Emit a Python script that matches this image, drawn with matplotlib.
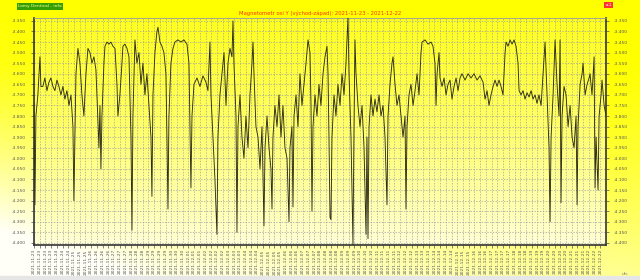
import numpy as np
import matplotlib
matplotlib.use("Agg")
import matplotlib.pyplot as plt
from datetime import datetime, timedelta

# hours since 2021-11-23 00:00 and magnetometer values
hours = [0.0, 1.3, 2.5, 5.0, 7.6, 8.8, 11.3, 13.8, 16.4, 18.9, 21.4, 23.9, 26.4, 29.0, 31.5, 34.0,
         36.5, 39.0, 41.5, 44.1, 46.6, 49.1, 50.3, 51.6, 52.9, 55.4, 57.9, 60.4, 62.9, 65.5, 68.0,
         70.5, 73.0, 75.5, 78.0, 79.3, 81.8, 83.1, 84.3, 85.6, 88.1, 89.4, 91.9, 94.4, 96.9, 99.4,
         102.0, 104.5, 105.7, 108.2, 110.8, 112.0, 114.5, 117.1, 119.6, 122.1, 123.4, 124.6, 127.1,
         129.6, 132.2, 134.7, 137.2, 139.7, 142.2, 144.8, 147.3, 148.5, 149.8, 152.3, 154.8, 156.1,
         158.6, 161.1, 163.6, 166.1, 167.4, 168.7, 169.9, 172.4, 175.0, 177.5, 181.3, 185.0, 188.8,
         192.6, 195.1, 196.4, 197.6, 198.9, 201.4, 205.2, 208.9, 212.7, 216.5, 219.0, 221.5, 222.8,
         225.3, 227.8, 230.3, 231.6, 234.1, 236.6, 239.2, 241.7, 244.2, 246.7, 249.2, 250.5, 251.7,
         254.3, 255.5, 256.8, 259.3, 261.8, 264.3, 266.8, 269.4, 271.9, 274.4, 275.7, 276.9, 279.4,
         282.0, 284.5, 287.0, 289.5, 290.8, 293.3, 295.8, 298.3, 299.6, 300.8, 303.3, 305.9, 308.4,
         310.9, 313.4, 315.9, 318.5, 321.0, 322.2, 324.7, 326.0, 327.3, 329.8, 332.3, 334.8, 337.3,
         339.9, 342.4, 344.9, 347.4, 348.7, 349.9, 351.2, 353.7, 356.2, 358.7, 361.2, 363.8, 366.3,
         368.8, 370.1, 371.3, 372.6, 373.8, 375.1, 377.6, 380.1, 382.6, 385.2, 387.7, 390.2, 392.7,
         395.2, 396.5, 399.0, 401.5, 402.8, 404.0, 405.3, 407.8, 410.3, 412.9, 415.4, 417.9, 419.1,
         420.4, 421.7, 424.2, 426.7, 429.2, 431.7, 434.3, 436.8, 439.3, 441.8, 444.3, 445.6, 448.1,
         450.6, 451.9, 454.4, 456.9, 459.4, 461.9, 464.5, 467.0, 468.2, 469.5, 472.0, 474.5, 477.1,
         479.6, 482.1, 484.6, 487.1, 488.4, 492.2, 495.9, 499.7, 502.2, 504.7, 506.0, 507.3, 509.8,
         511.0, 513.6, 516.1, 518.6, 521.1, 523.6, 526.1, 528.7, 531.2, 533.7, 536.2, 538.7, 542.5,
         546.3, 550.1, 553.8, 557.6, 561.4, 565.2, 567.7, 570.2, 572.7, 575.2, 577.8, 580.3, 582.8,
         585.3, 587.8, 590.3, 592.9, 594.1, 596.6, 599.2, 601.7, 604.2, 606.7, 609.2, 610.5, 613.0,
         615.5, 618.0, 620.5, 623.1, 625.6, 628.1, 630.6, 633.1, 635.6, 638.2, 640.7, 643.2, 645.7,
         648.2, 649.5, 650.8, 653.3, 655.8, 658.3, 660.8, 662.1, 663.3, 664.6, 667.1, 669.6, 672.2,
         674.7, 677.2, 679.7, 682.2, 683.5, 684.7, 687.3, 689.8, 691.0, 693.6, 696.1, 698.6, 699.8,
         702.3, 704.9, 706.1, 707.4, 709.9, 711.2, 713.7, 714.9, 717.5, 720.0]

values = [-3.74, -4.22, -3.80, -3.70, -3.52, -3.66, -3.66, -3.62, -3.68, -3.64, -3.62, -3.66, -3.68,
          -3.63, -3.66, -3.70, -3.66, -3.72, -3.68, -3.75, -3.70, -3.85, -4.20, -3.90, -3.60, -3.48,
          -3.55, -3.70, -3.80, -3.60, -3.48, -3.50, -3.55, -3.52, -3.58, -3.70, -3.95, -3.75, -4.05,
          -3.80, -3.55, -3.47, -3.45, -3.46, -3.45, -3.47, -3.48, -3.65, -3.80, -3.70, -3.55, -3.47,
          -3.46, -3.48, -3.52, -3.90, -4.34, -3.80, -3.44, -3.55, -3.50, -3.65, -3.55, -3.70, -3.60,
          -3.75, -3.90, -4.18, -3.70, -3.50, -3.40, -3.38, -3.45, -3.47, -3.50, -3.60, -3.90, -4.24,
          -3.80, -3.55, -3.48, -3.45, -3.44, -3.45, -3.44, -3.46, -3.55, -3.85, -4.14, -3.80, -3.65,
          -3.62, -3.66, -3.61, -3.64, -3.68, -3.45, -3.70, -3.90, -4.10, -4.36, -3.90, -3.70, -3.60,
          -3.50, -3.75, -3.55, -3.48, -3.52, -3.35, -3.55, -3.80, -4.35, -3.85, -3.70, -3.90, -4.00,
          -3.80, -3.95, -3.70, -3.55, -3.45, -3.60, -3.85, -3.90, -4.05, -3.85, -4.32, -3.95, -3.80,
          -3.95, -4.05, -4.24, -3.90, -3.75, -3.85, -3.70, -3.90, -3.75, -3.95, -4.00, -4.30, -3.95,
          -3.85, -4.23, -3.80, -3.70, -3.85, -3.60, -3.75, -3.65, -3.55, -3.44, -3.50, -3.75, -4.25,
          -3.85, -3.70, -3.80, -3.65, -3.75, -3.60, -3.52, -3.47, -3.60, -3.90, -4.28, -4.29, -3.90,
          -3.70, -3.80, -3.65, -3.75, -3.60, -3.70, -3.55, -3.33, -3.60, -3.90, -4.41, -3.85, -3.44,
          -3.60, -3.75, -3.85, -3.75, -3.95, -4.36, -3.90, -4.38, -3.85, -3.70, -3.80, -3.72, -3.78,
          -3.70, -3.80, -3.75, -3.90, -4.22, -3.80, -3.65, -3.55, -3.52, -3.65, -3.75, -3.70, -3.80,
          -3.90, -3.80, -4.24, -3.85, -3.70, -3.65, -3.75, -3.68, -3.60, -3.70, -3.50, -3.45, -3.44,
          -3.46, -3.45, -3.47, -3.55, -3.75, -3.60, -3.50, -3.62, -3.66, -3.62, -3.70, -3.65, -3.63,
          -3.72, -3.66, -3.62, -3.68, -3.62, -3.60, -3.63, -3.60, -3.62, -3.60, -3.63, -3.61, -3.64,
          -3.72, -3.68, -3.75, -3.70, -3.66, -3.63, -3.66, -3.63, -3.66, -3.70, -3.50, -3.45, -3.47,
          -3.44, -3.46, -3.44, -3.47, -3.55, -3.68, -3.70, -3.68, -3.72, -3.69, -3.71, -3.68, -3.72,
          -3.70, -3.74, -3.70, -3.75, -3.60, -3.45, -3.70, -3.95, -4.30, -3.90, -3.70, -3.44, -3.65,
          -3.80, -3.44, -4.21, -3.80, -3.66, -3.70, -3.85, -3.75, -3.90, -3.95, -3.80, -4.22, -3.85,
          -3.65, -3.60, -3.55, -3.70, -3.65, -3.62, -3.60, -3.70, -3.52, -4.14, -3.90, -4.15, -3.80,
          -3.70, -3.63, -3.75, -3.80]

start = datetime(2021, 11, 23)
title = "Magnetometr osi Y (východ-západ): 2021-11-23 - 2021-12-22"

fig = plt.figure(figsize=(6.4, 2.8), dpi=100)

# background gradient for the whole figure: yellow top-right, fading to white bottom-left
bg = fig.add_axes([0, 0, 1, 1], zorder=-10)
gy = np.linspace(0, 1, 200)[:, None]
gx = np.linspace(0, 1, 300)[None, :]
fade = np.clip((gy - 0.2) * 1.3, 0, 1) ** 1.3 * (1 - 0.45 * gx) + np.clip(0.25 - gx, 0, 1) * gy
rgb = np.ones((200, 300, 3))
rgb[..., 2] = np.clip(fade, 0, 0.97)
bg.imshow(rgb, aspect="auto", extent=[0, 1, 0, 1], origin="upper")
bg.axhspan(0, 0.015, color="#e6e6e6")
bg.set_xlim(0, 1)
bg.set_ylim(0, 1)
bg.axis("off")

ax = fig.add_axes([0.053, 0.125, 0.894, 0.811])
ay = np.linspace(0, 1, 200)[:, None]
argb = np.ones((200, 2, 3))
argb[..., 2] = (0.12 + 0.72 * ay ** 1.2) * np.ones((1, 2))
ax.imshow(argb, aspect="auto", extent=[0, 720, -4.41, -3.336], origin="upper", zorder=0)

ax.plot(hours, values, color="#2e2e14", lw=0.65, zorder=3)

ax.set_xlim(0, 720)
ax.set_ylim(-4.41, -3.336)

yt = np.arange(-4.40, -3.34, 0.05)
ax.set_yticks(yt)
ax.set_yticklabels(["%.3f" % v for v in yt])
xt = np.arange(0, 720, 7.2)
ax.set_xticks(xt)
ax.set_xticklabels([(start + timedelta(hours=float(h))).strftime("%Y-%m-%d") for h in xt],
                   rotation=90)
ax.tick_params(axis="both", labelsize=3.2, colors="#555555", length=2, width=0.5)
ax.tick_params(axis="y", labelright=True, right=True)
ax.tick_params(axis="x", pad=1)
ax.grid(True, color="#a0a0a0", lw=0.5, ls=(0, (2, 2)), zorder=1)
for s in ax.spines.values():
    s.set_color("#333333")
    s.set_linewidth(1.2)
ax.spines["top"].set_color("#999999")
ax.spines["top"].set_linewidth(0.6)

fig.text(0.50, 0.952, title, color="#ff3300", fontsize=3.8, ha="center", va="center")
fig.text(0.028, 0.977, "Lomy Dentical - info", color="#ffffaa", fontsize=3.2, ha="left",
         va="center", bbox=dict(boxstyle="square,pad=0.3", fc="#33a000", ec="none"))
fig.text(0.951, 0.982, "a-1", color="white", fontsize=3, ha="center", va="center",
         bbox=dict(boxstyle="square,pad=0.3", fc="#ff3333", ec="none"))
fig.text(0.977, 0.02, "ufc", color="#777777", fontsize=3.2, ha="center", va="center")

fig.savefig("out.png", dpi=100)
